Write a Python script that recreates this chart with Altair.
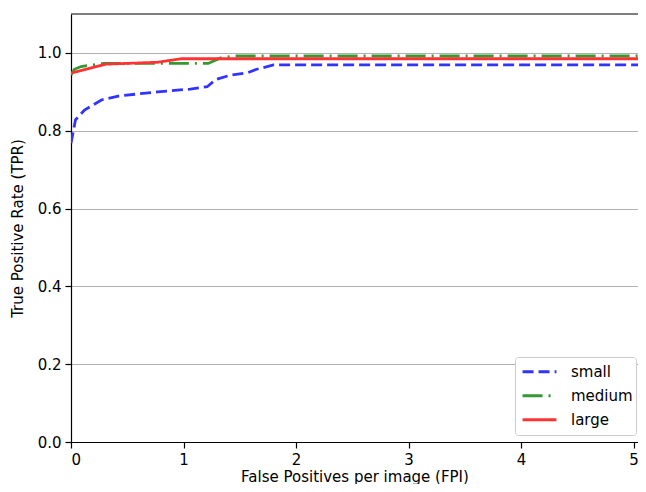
import altair as alt
import pandas as pd

series_names = ["small", "medium", "large"]
series_colors = ["#3333ff", "#339933", "#ff3333"]

small_fpi = [0.0, 0.04, 0.12, 0.27, 0.42, 0.77, 1.06, 1.21, 1.29, 1.42, 1.57, 1.65, 1.80, 5.06]
small_tpr = [0.768, 0.828, 0.853, 0.879, 0.889, 0.900, 0.907, 0.913, 0.932, 0.943, 0.949, 0.958, 0.969, 0.969]

medium_fpi = [0.0, 0.03, 0.09, 0.29, 1.22, 1.33, 1.45, 5.06]
medium_tpr = [0.943, 0.958, 0.965, 0.973, 0.973, 0.987, 0.992, 0.992]

large_fpi = [0.0, 0.31, 0.77, 0.98, 5.06]
large_tpr = [0.948, 0.971, 0.976, 0.985, 0.985]

x_ticks = [0, 1, 2, 3, 4, 5]
y_ticks = [0.0, 0.2, 0.4, 0.6, 0.8, 1.0]

rows = []
for name, xs, ys in [("small", small_fpi, small_tpr),
                     ("medium", medium_fpi, medium_tpr),
                     ("large", large_fpi, large_tpr)]:
    for i, (xv, yv) in enumerate(zip(xs, ys)):
        rows.append({"series": name, "fpi": xv, "tpr": yv, "i": i})
df = pd.DataFrame(rows)

FONT = "DejaVu Sans"
FS = 15

legend = alt.Legend(
    title=None, orient="none", legendX=444, legendY=343,
    symbolType="stroke", symbolSize=1150, symbolStrokeWidth=2.8,
    labelFontSize=FS, labelFont=FONT, labelColor="black",
    rowPadding=0, clipHeight=23.5, padding=3, symbolOffset=3,
    strokeColor="#cccccc", fillColor="white",
    cornerRadius=3, labelOffset=13,
)

axis_common = dict(
    domainColor="black", domainWidth=1.2, tickColor="black", tickSize=6,
    tickWidth=1.2, labelFontSize=FS, labelFont=FONT, labelColor="black",
    titleFontSize=FS, titleFont=FONT, titleFontWeight="normal",
    titleColor="black", labelPadding=4,
)

xenc = alt.X("fpi:Q",
             scale=alt.Scale(domain=[0, 5.04], nice=False, zero=False),
             axis=alt.Axis(title="False Positives per image (FPI)", values=x_ticks,
                           format="d", grid=False, titlePadding=2, **axis_common))
yenc = alt.Y("tpr:Q",
             scale=alt.Scale(domain=[0, 1.1], nice=False),
             axis=alt.Axis(title="True Positive Rate (TPR)", values=y_ticks,
                           format=".1f", grid=True, gridColor="#b0b0b0",
                           gridWidth=1, titlePadding=12, **axis_common))

lines = alt.Chart(df).mark_line(strokeWidth=2.8, clip=True, strokeCap="butt").encode(
    x=xenc,
    y=yenc,
    order="i:Q",
    color=alt.Color("series:N", sort=series_names,
                    scale=alt.Scale(domain=series_names, range=series_colors),
                    legend=legend),
    strokeDash=alt.StrokeDash("series:N", sort=series_names,
                              scale=alt.Scale(domain=series_names,
                                              range=[[11, 5], [20, 6, 2, 6], [1, 0]]),
                              legend=legend),
)

top_spine = alt.Chart(pd.DataFrame({"k": [0]})).mark_rule(
    color="black", strokeWidth=1.2).encode(y=alt.datum(1.1))

chart = alt.layer(lines, top_spine).properties(
    width=567, height=428,
    autosize=alt.AutoSizeParams(type="none"),
    padding={"left": 63, "top": 6, "right": 0, "bottom": 42},
).configure_view(stroke=None)

chart.save("out.html", embed_options={"renderer": "svg", "actions": False})
